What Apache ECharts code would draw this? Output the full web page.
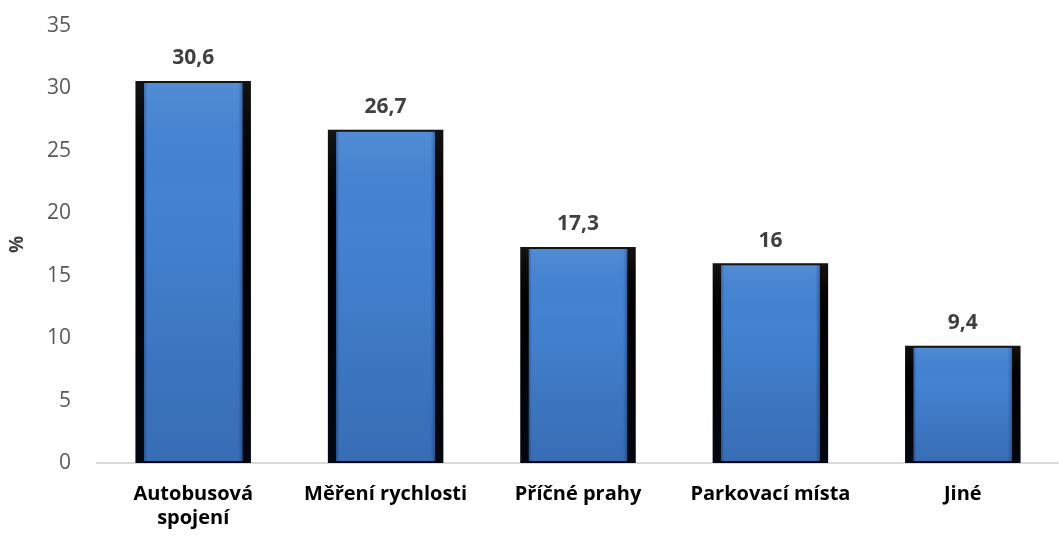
<!DOCTYPE html>
<html lang="cs">
<head>
    <meta charset="UTF-8">
    <title>Graf</title>
    <script src="https://cdn.jsdelivr.net/npm/echarts@6/dist/echarts.min.js"></script>
</head>
<body style="margin:0">
<div id="main" style="width:1059px;height:540px;"></div>
<script type="text/javascript">
    // data
    var categories = ['Autobusová\nspojení', 'Měření rychlosti', 'Příčné prahy', 'Parkovací místa', 'Jiné'];
    var values = [30.6, 26.7, 17.3, 16, 9.4];
    var yTicks = {min: 0, max: 35, step: 5};

    var chart = echarts.init(document.getElementById('main'));

    // black sides + blue body, like the bevelled bars in the original
    var barFill = new echarts.graphic.LinearGradient(0, 0, 1, 0, [
        {offset: 0, color: '#000'},
        {offset: 0.07, color: '#000'},
        {offset: 0.075, color: '#2f62a6'},
        {offset: 0.1, color: '#4483d2'},
        {offset: 0.89, color: '#4483d2'},
        {offset: 0.925, color: '#2f62a6'},
        {offset: 0.93, color: '#000'},
        {offset: 1, color: '#000'}
    ]);
    // darker towards the bottom
    var shade = new echarts.graphic.LinearGradient(0, 0, 0, 1, [
        {offset: 0, color: 'rgba(255,255,255,0.08)'},
        {offset: 0.3, color: 'rgba(10,30,70,0)'},
        {offset: 1, color: 'rgba(10,30,70,0.22)'}
    ]);

    chart.setOption({
        textStyle: {fontFamily: 'Open Sans'},
        grid: {left: 94, right: -14, top: 26, bottom: 77},
        xAxis: {
            type: 'category',
            data: categories,
            axisLine: {lineStyle: {color: '#d9d9d9', width: 2}},
            axisTick: {show: false},
            axisLabel: {
                interval: 0,
                hideOverlap: false,
                color: '#000', fontWeight: 'bold', fontSize: 20, margin: 19, lineHeight: 24
            }
        },
        yAxis: {
            type: 'value',
            min: yTicks.min, max: yTicks.max, interval: yTicks.step,
            name: '%',
            nameLocation: 'middle',
            nameGap: 70,
            nameRotate: 90,
            nameTextStyle: {color: '#404040', fontWeight: 'bold', fontSize: 19},
            splitLine: {show: false},
            axisLine: {show: false},
            axisTick: {show: false},
            axisLabel: {color: '#595959', fontSize: 21, margin: 26}
        },
        series: [{
            type: 'bar',
            data: values,
            barWidth: '60%',
            barGap: '-100%',
            z: 2,
            itemStyle: {
                color: barFill,
                borderColor: '#000',
                borderWidth: 2
            },
            label: {
                show: true,
                position: 'top',
                distance: 12,
                color: '#404040',
                fontWeight: 'bold',
                fontSize: 21,
                formatter: function (p) {
                    return String(p.value).replace('.', ',');
                }
            }
        }, {
            type: 'bar',
            data: values,
            barWidth: '60%',
            barGap: '-100%',
            z: 3,
            silent: true,
            itemStyle: {color: shade}
        }]
    });
</script>
</body>
</html>
